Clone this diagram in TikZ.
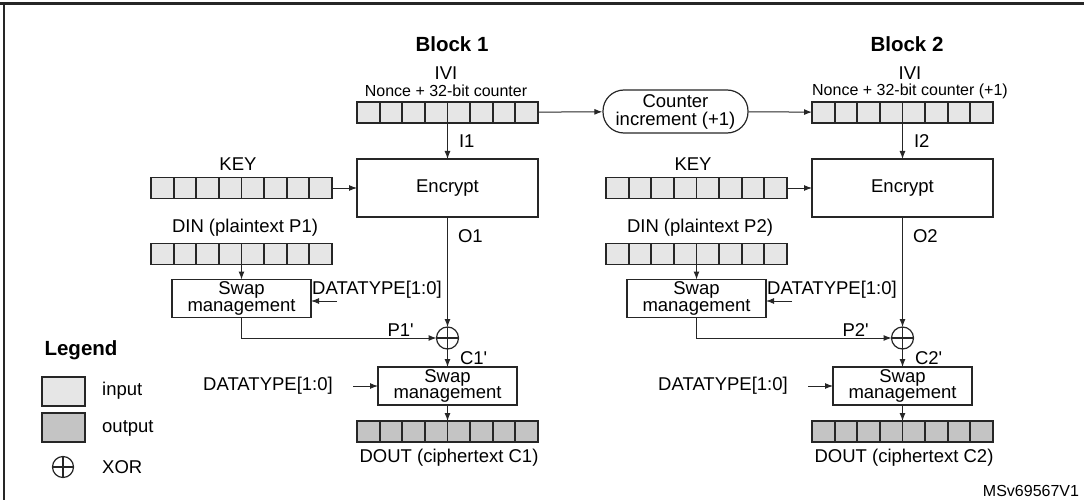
\documentclass[tikz,border=0pt]{standalone}
\usepackage{fontspec}
\setmainfont{Liberation Sans}
\usepackage{tikz}
\usetikzlibrary{positioning,arrows.meta}
\definecolor{STInput}{HTML}{E6E6E6}
\definecolor{STOutput}{HTML}{C4C4C4}
\definecolor{STLine}{HTML}{262626}

\tikzset{
  reg/.style={draw=STLine, line width=1.8pt, fill=STInput, minimum width=181pt,
              minimum height=21pt, inner sep=0pt, outer sep=0pt,
              path picture={\foreach \i in {1,...,7}
                \draw[STLine, line width=1.8pt]
                  ([xshift=\i*22.625pt]path picture bounding box.south west) --
                  ([xshift=\i*22.625pt]path picture bounding box.north west);}},
  regout/.style={reg, fill=STOutput},
  proc/.style={draw=STLine, line width=1.8pt, fill=white, align=center,
               inner sep=0pt, outer sep=0pt},
  swapbox/.style={proc, minimum width=139pt, minimum height=38pt},
  xorsym/.style={draw=STLine, line width=1.2pt, circle, minimum size=22pt,
                 inner sep=0pt, outer sep=0pt,
                 path picture={\draw[STLine, line width=1.2pt]
                   (path picture bounding box.north) -- (path picture bounding box.south)
                   (path picture bounding box.west) -- (path picture bounding box.east);}},
  lbl/.style={inner sep=1pt},
  small/.style={font=\fontsize{16}{16}\selectfont},
  heading/.style={font=\bfseries\fontsize{20.5}{20}\selectfont},
  wire/.style={->, draw=STLine, line width=1pt}
}

\begin{document}
\begin{tikzpicture}[x=1pt, y=-1pt, >={Latex[length=8pt,width=6pt]},
                    font=\fontsize{18.5}{16.5}\selectfont]
\useasboundingbox (0,0) rectangle (1084,500);
% frame
\draw[STLine, line width=3pt] (0,4) -- (1084,4);
\draw[STLine, line width=2pt] (3.5,4) -- (3.5,500);

% the two blocks
\foreach \b/\dx in {1/0,2/455}{
\begin{scope}[xshift=\dx pt]
\node[lbl, heading] (block\b) at (452,44) {Block \b};
\node[reg] (ivi\b) at (447.5,112.5) {};
\node[proc, minimum width=181pt, minimum height=58pt, below=36pt of ivi\b] (enc\b) {Encrypt};
\node[reg, left=25pt of enc\b] (key\b) {};
\node[lbl] (keylbl\b) at (238,164) {KEY};
\node[reg, below=45pt of key\b] (din\b) {};
\node[lbl] (dinlbl\b) at (245,228) {DIN (plaintext P\b)};
\node[swapbox, below=15pt of din\b] (swap\b) {Swap\\management};
\node[lbl] (dtrlbl\b) at (377,290) {DATATYPE[1:0]};
\coordinate (dtr\b) at (337,301);
\node[xorsym, below=110pt of enc\b] (xor\b) {};
\node[swapbox, below=18pt of xor\b] (swapo\b) {Swap\\management};
\node[lbl] (dtllbl\b) at (268,386) {DATATYPE[1:0]};
\coordinate (dtl\b) at (353,386);
\node[regout, below=16pt of swapo\b] (dout\b) {};
\node[lbl] (doutlbl\b) at (449,458) {DOUT (ciphertext C\b)};

\draw[wire] (ivi\b) -- node[lbl, right=10pt] {I\b} (enc\b);
\draw[wire] (key\b) -- (enc\b);
\draw[wire] (enc\b) -- node[lbl, pos=0.17, right=9pt] {O\b} (xor\b);
\draw[wire] (din\b) -- (swap\b);
\draw[wire] (dtr\b) -- (dtr\b -| swap\b.east);
\draw[wire] (swap\b) |- node[lbl, pos=0.908, above] {P\b\textquotesingle} (xor\b);
\draw[wire] (xor\b) -- node[lbl, right=11pt] {C\b\textquotesingle} (swapo\b);
\draw[wire] (dtl\b) -- (dtl\b -| swapo\b.west);
\draw[wire] (swapo\b) -- (dout\b);
\end{scope}}

\node[lbl] (ivilbl1) at (446,73) {IVI};
\node[lbl, small] (nonce1) at (446,91) {Nonce + 32-bit counter};
\node[lbl] (ivilbl2) at (910,73) {IVI};
\node[lbl, small] (nonce2) at (910,91) {Nonce + 32-bit counter (+1)};

% counter increment between the blocks
\node[draw=STLine, line width=1.2pt, rounded corners=21pt, minimum width=145pt,
      minimum height=43pt, align=center, inner sep=0pt,
      font=\fontsize{18.5}{18}\selectfont] (cnt) at (675.5,111.5) {Counter\\increment (+1)};
\draw[wire] (ivi1) -- (cnt);
\draw[wire] (cnt) -- (ivi2);

% legend
\node[lbl, heading] (legend) at (81,350) {Legend};
\node[draw=STLine, line width=1.5pt, fill=STInput, minimum width=43pt,
      minimum height=29pt] (legin) at (63.5,391.5) {};
\node[lbl, anchor=west] (leginlbl) at (101,391) {input};
\node[draw=STLine, line width=1.5pt, fill=STOutput, minimum width=43pt,
      minimum height=29pt] (legout) at (63.5,427.5) {};
\node[lbl, anchor=west] (legoutlbl) at (101,428) {output};
\node[xorsym, minimum size=21pt] (legxor) at (63,467) {};
\node[lbl, anchor=west] (legxorlbl) at (101,467) {XOR};

\node[lbl, small] (ref) at (1031,491) {MSv69567V1};
\end{tikzpicture}
\end{document}
